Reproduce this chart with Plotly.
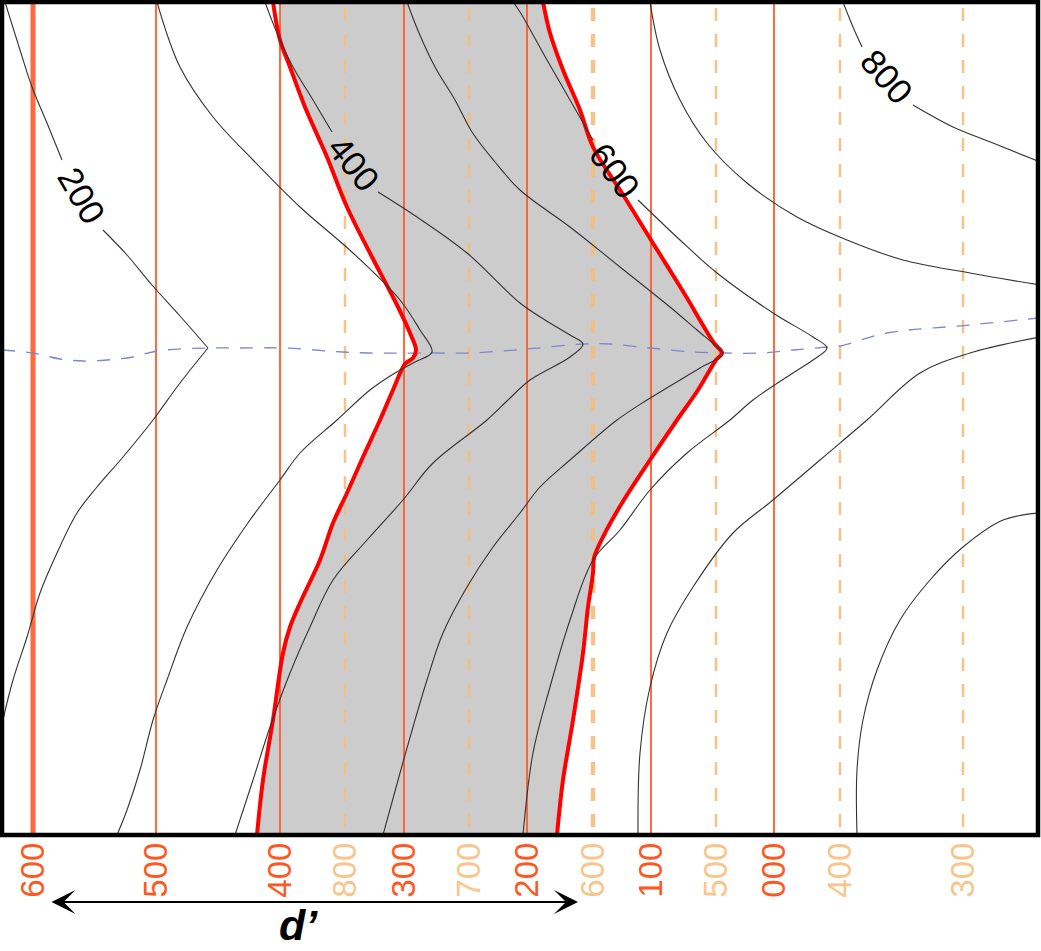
import plotly.graph_objects as go

# ---------------- data (map coordinates, y grows downward) ----------------
solid_x = [33, 156, 280, 404, 527, 651, 774]
solid_labels = ["600", "500", "400", "300", "200", "100", "000"]
solid_width = [5, 2, 2, 2, 2, 2, 2]

dashed_x = [345, 469, 593, 716, 840, 963]
dashed_labels = ["800", "700", "600", "500", "400", "300"]
dashed_width = [2.5, 2.5, 4.5, 2.5, 2.5, 2.5]

# contour 200 (three pieces: above label, label-to-hinge, hinge-down)
c200_up_x = [5, 20, 32, 47, 62]
c200_up_y = [2, 50, 87, 123, 160]
c200_mid_x = [103, 127, 152, 180, 208]
c200_mid_y = [230, 255, 285, 316, 348]
c200_lo_x = [208, 180, 153, 123, 97, 77, 57, 40, 27, 13, 3, 0]
c200_lo_y = [348, 383, 420, 457, 487, 513, 553, 593, 637, 680, 720, 735]
# contour 300
c300_x = [157, 180, 213, 253, 300, 353, 400, 420, 432, 415, 395, 370, 337, 300, 280, 250, 217, 187, 167, 153, 140, 127, 117]
c300_y = [2, 67, 117, 160, 207, 253, 300, 330, 352, 362, 373, 390, 420, 453, 480, 520, 570, 627, 680, 720, 770, 810, 835]
# contour 400
c400_up_x = [265, 277, 293, 313, 332]
c400_up_y = [2, 33, 67, 100, 132]
c400_lo_x = [378, 417, 467, 520, 545, 570, 583, 570, 530, 508, 487, 433, 403, 367, 333, 310, 290, 270, 253, 235]
c400_lo_y = [192, 217, 253, 303, 320, 335, 344, 357, 380, 400, 420, 463, 500, 540, 580, 627, 673, 727, 780, 835]
# contour 500
c500_x = [407, 419, 435, 455, 472, 495, 520, 570, 620, 670, 697, 717, 723, 700, 647, 617, 570, 540, 520, 493, 467, 443, 427, 413, 400, 383]
c500_y = [2, 33, 67, 100, 132, 162, 190, 227, 267, 307, 330, 347, 354, 368, 400, 420, 460, 487, 513, 547, 587, 633, 680, 727, 773, 835]
# contour 600
c600_up_x = [513, 520, 547, 570, 593]
c600_up_y = [2, 12, 60, 100, 140]
c600_lo_x = [638, 680, 717, 773, 813, 827, 813, 793, 753, 730, 687, 650, 620, 593, 570, 550, 533, 523]
c600_lo_y = [200, 240, 273, 313, 337, 348, 360, 373, 400, 420, 453, 490, 530, 560, 620, 687, 753, 835]
# contour 700
c700_x = [650, 660, 680, 707, 747, 797, 847, 903, 970, 1040]
c700_y = [2, 50, 100, 143, 183, 217, 240, 260, 273, 285]
# contour 800
c800_up_x = [843, 853, 862]
c800_up_y = [2, 27, 47]
c800_lo_x = [913, 953, 993, 1040]
c800_lo_y = [105, 127, 143, 162]
# lower-right contours
cr1_x = [1040, 970, 920, 867, 820, 773, 733, 693, 667, 650, 640, 638]
cr1_y = [337, 353, 373, 420, 460, 500, 533, 587, 633, 687, 753, 835]
cr2_x = [1040, 1003, 963, 930, 900, 877, 863, 857, 857]
cr2_y = [513, 520, 547, 580, 620, 670, 720, 770, 835]

# red outcrop boundaries
red_left_x = [273, 280, 290, 305, 327, 347, 372, 397, 410, 416, 413, 405, 393, 380, 363, 347, 333, 320, 300, 290, 283, 273, 263, 257]
red_left_y = [2, 40, 67, 107, 157, 207, 257, 305, 333, 350, 358, 364, 390, 420, 457, 493, 523, 560, 603, 627, 653, 720, 780, 835]
red_right_x = [543, 550, 563, 580, 593, 622, 651, 684, 714, 722, 716, 698, 677, 650, 622, 604, 594, 593, 588, 583, 573, 563, 557]
red_right_y = [2, 33, 70, 110, 147, 193, 240, 293, 343, 353, 360, 390, 420, 460, 503, 535, 558, 573, 607, 653, 720, 780, 835]

# blue dashed axis line
blue_x = [2, 33, 60, 83, 107, 133, 157, 208, 240, 283, 343, 370, 437, 470, 527, 583, 610, 650, 693, 723, 760, 793, 827, 840, 887, 970, 1038]
blue_y = [350, 353, 359, 361, 360, 357, 351, 348, 348, 348, 352, 353, 353, 353, 349, 344, 344, 348, 352, 353, 353, 350, 347, 346, 333, 325, 318]

label_text = ["200", "400", "600", "800"]
label_x = [82, 354, 615, 887]
label_y = [195, 163, 170, 76]
label_angle = [60, 51, 53, 49]

arrow_x = [50, 578]
d_label = "d\u2019"

X0, X1, Y0, Y1 = 2, 1038, 2, 835

# ---------------- figure ----------------
fig = go.Figure()

# grey outcrop fill
fill_x = [solid_x[2]] + red_left_x[1:] + red_right_x[::-1]
fill_y = [Y0] + red_left_y[1:] + red_right_y[::-1]
fig.add_trace(go.Scatter(x=fill_x, y=fill_y, fill="toself", fillcolor="#CCCCCC",
                         line=dict(width=0), mode="lines", hoverinfo="skip"))

# strike lines
for xv, w in zip(solid_x, solid_width):
    fig.add_trace(go.Scatter(x=[xv, xv], y=[Y0, Y1], mode="lines",
                             line=dict(color="#FF5A2A", width=w), opacity=0.9, hoverinfo="skip"))
for xv, w in zip(dashed_x, dashed_width):
    fig.add_trace(go.Scatter(x=[xv, xv], y=[8, Y1], mode="lines",
                             line=dict(color="#F5BE7E", width=w, dash="13px,13px"),
                             opacity=0.9, hoverinfo="skip"))

# blue dashed line
fig.add_trace(go.Scatter(x=blue_x, y=blue_y, mode="lines",
                         line=dict(color="#7F86CC", width=1.3, dash="13px,11px", shape="spline", smoothing=1.0),
                         hoverinfo="skip"))

# red boundaries
for xs, ys in [(red_left_x, red_left_y), (red_right_x, red_right_y)]:
    fig.add_trace(go.Scatter(x=xs, y=ys, mode="lines",
                             line=dict(color="#FF0000", width=4, shape="spline", smoothing=1.0), hoverinfo="skip"))

# contours
contours = [
    (c200_up_x, c200_up_y), (c200_mid_x, c200_mid_y), (c200_lo_x, c200_lo_y),
    (c300_x, c300_y),
    (c400_up_x, c400_up_y), (c400_lo_x, c400_lo_y),
    (c500_x, c500_y),
    (c600_up_x, c600_up_y), (c600_lo_x, c600_lo_y),
    (c700_x, c700_y),
    (c800_up_x, c800_up_y), (c800_lo_x, c800_lo_y),
    (cr1_x, cr1_y), (cr2_x, cr2_y),
]
for xs, ys in contours:
    fig.add_trace(go.Scatter(x=xs, y=ys, mode="lines",
                             line=dict(color="#333333", width=1.1, shape="spline", smoothing=1.0),
                             hoverinfo="skip"))

# axis for second label set
fig.add_trace(go.Scatter(x=[X0], y=[Y0], xaxis="x2", mode="markers",
                         marker=dict(opacity=0), hoverinfo="skip"))

label_family = "Liberation Sans Narrow, Arial Narrow, Liberation Sans"
# contour labels
for t, xv, yv, a in zip(label_text, label_x, label_y, label_angle):
    fig.add_annotation(x=xv, y=yv, xref="x", yref="y", text=t, showarrow=False,
                       textangle=a, font=dict(family=label_family, size=35, color="#000000"))

# d' arrow
fig.add_annotation(x=arrow_x[1], y=-0.0804, xref="x", yref="paper",
                   ax=arrow_x[0], ay=0, axref="x", ayref="pixel", text="",
                   showarrow=True, arrowhead=3, startarrowhead=3, arrowside="end+start",
                   arrowwidth=2, arrowsize=2.0, startarrowsize=2.0, arrowcolor="#000000")
fig.add_annotation(x=298, y=-0.1385, xref="x", yref="paper", yanchor="bottom", borderpad=0,
                   text=d_label, showarrow=False,
                   font=dict(family="Liberation Sans, Arial", size=43, color="#000000",
                             weight="bold", style="italic"))

# frame
fig.add_shape(type="rect", xref="paper", yref="paper", x0=0, x1=1, y0=0, y1=1,
              line=dict(color="#000000", width=4.5), layer="above")

fig.update_layout(
    width=1041, height=951,
    margin=dict(l=X0, r=1041 - X1, t=Y0, b=951 - Y1),
    paper_bgcolor="white", plot_bgcolor="white",
    showlegend=False,
    xaxis=dict(range=[X0, X1], tickmode="array", tickvals=solid_x, ticktext=solid_labels,
               tickangle=-90, tickfont=dict(family=label_family, size=33, color="#FF5722"),
               showgrid=False, zeroline=False, showline=False, ticks=""),
    xaxis2=dict(range=[X0, X1], overlaying="x", side="bottom", tickmode="array",
                tickvals=dashed_x, ticktext=dashed_labels, tickangle=-90,
                tickfont=dict(family=label_family, size=33, color="#F8C68C"),
                showgrid=False, zeroline=False, showline=False, ticks=""),
    yaxis=dict(range=[Y1, Y0], showticklabels=False, showgrid=False, zeroline=False, showline=False),
)

fig.write_html("out.html")
